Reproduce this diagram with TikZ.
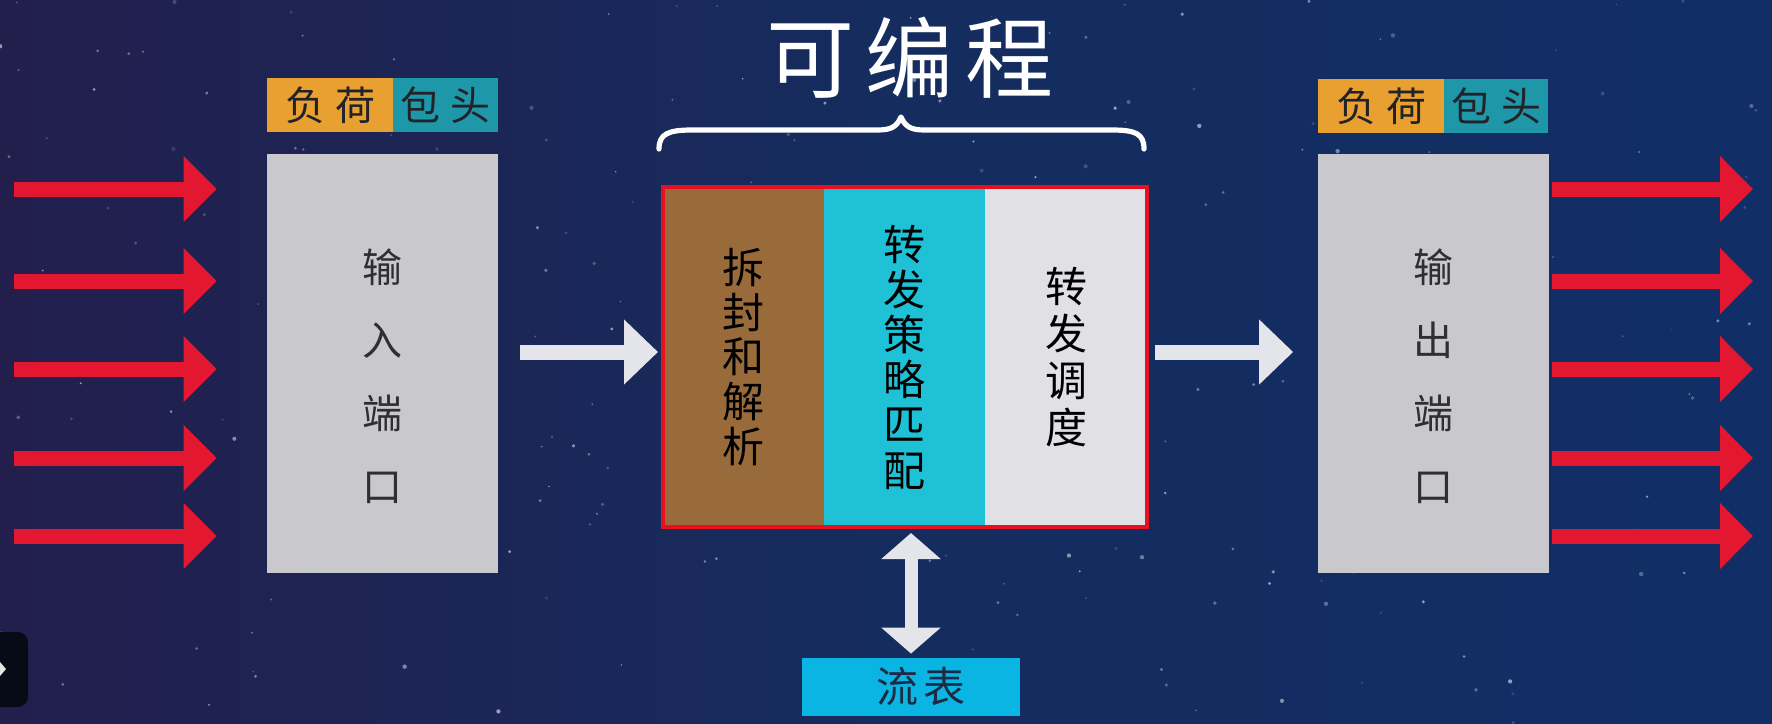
\documentclass[tikz,border=0pt]{standalone}
\usepackage{fontspec}
\setmainfont{Noto Sans CJK SC}
\usetikzlibrary{arrows.meta}

\definecolor{bgL}{HTML}{221F4D}
\definecolor{bgM}{HTML}{152C5E}
\definecolor{bgR}{HTML}{112F66}
\definecolor{redarr}{HTML}{E3172F}
\definecolor{redbox}{HTML}{E81020}
\definecolor{whitearr}{HTML}{E4E5EA}
\definecolor{portgray}{HTML}{C9C9CD}
\definecolor{porttext}{HTML}{2E2E33}
\definecolor{laborange}{HTML}{E8A030}
\definecolor{labteal}{HTML}{1E98A8}
\definecolor{labtext}{HTML}{222228}
\definecolor{colbrown}{HTML}{9A6B3A}
\definecolor{colcyan}{HTML}{1FC1D6}
\definecolor{colgray}{HTML}{E0E0E5}
\definecolor{flowblue}{HTML}{0BB5E3}
\definecolor{flowtext}{HTML}{1B2B45}
\definecolor{uiblack}{HTML}{070B16}

\tikzset{
  portbox/.style={fill=portgray, minimum width=115.5pt, minimum height=209.5pt, inner sep=0pt},
  porttxt/.style={text=porttext, align=center, font=\fontsize{20}{36.5}\selectfont, inner sep=0pt},
  lab/.style={minimum height=27pt, inner sep=0pt, text=labtext, font=\fontsize{20}{20}\selectfont},
  col/.style={minimum width=80.5pt, minimum height=170pt, inner sep=0pt, align=center, text=black},
  rarrow/.style={draw=redarr, line width=7.5pt, -{Triangle[length=16.5pt,width=32pt]}},
  warrow/.style={draw=whitearr, line width=7.5pt, -{Triangle[length=17pt,width=31.5pt]}},
  darrow/.style={draw=whitearr, line width=6.5pt, {Triangle[length=13pt,width=29pt]}-{Triangle[length=13pt,width=29pt]}},
  bracestyle/.style={draw=white, line width=2.6pt, line cap=round, line join=round}
}

\begin{document}
\begin{tikzpicture}[x=0.5pt,y=-0.5pt]
\useasboundingbox (0,0) rectangle (1772,723);
% background
\shade[left color=bgL, right color=bgR, middle color=bgM] (0,0) rectangle (1772,723);
\pgfmathsetseed{11}
\foreach \i in {1,...,230}{
  \pgfmathsetmacro{\sx}{rnd*1772}
  \pgfmathsetmacro{\sy}{rnd*723}
  \pgfmathsetmacro{\so}{0.12+0.45*rnd}
  \pgfmathsetmacro{\sr}{0.8+1.4*rnd}
  \fill[white, opacity=\so] (\sx,\sy) circle[radius=\sr];
}
% player control remnant
\fill[uiblack, rounded corners=5pt] (-20,632) rectangle (28,707);
\fill[white!80!gray] (0,662) -- (6,669) -- (0,676) -- cycle;

% title
\node[text=white, font=\fontsize{44}{44}\selectfont, inner sep=0pt] (title) at (910,58) {可\hspace{6pt}编\hspace{6pt}程};

% input port
\node[portbox] (inbox) at (382.5,363.5) {};
\node[porttxt] (intext) at (382.5,376) {输\\入\\端\\口};
\node[lab, fill=laborange, minimum width=63pt] (inload) at (330,105) {负\hspace{5pt}荷};
\node[lab, fill=labteal, minimum width=52.5pt] (inhead) at (445.5,105) {包\hspace{5pt}头};

% output port
\node[portbox] (outbox) at (1433,363.5) {};
\node[porttxt] (outtext) at (1433,376) {输\\出\\端\\口};
\node[lab, fill=laborange, minimum width=63pt] (outload) at (1381,106) {负\hspace{5pt}荷};
\node[lab, fill=labteal, minimum width=52pt] (outhead) at (1496,106) {包\hspace{5pt}头};

% programmable core
\node[col, fill=colbrown, font=\fontsize{21}{22.3}\selectfont] (col1) at (743.5,357) {拆\\封\\和\\解\\析};
\node[col, fill=colcyan, font=\fontsize{21}{22.6}\selectfont] (col2) at (904.5,357) {转\\发\\策\\略\\匹\\配};
\node[col, fill=colgray, minimum width=81pt, font=\fontsize{21}{23.5}\selectfont] (col3) at (1066,357) {转\\发\\调\\度};
\node[draw=redbox, line width=2pt, minimum width=242pt, minimum height=170pt, inner sep=0pt] (core) at (905,357) {};

% brace over the core
\draw[bracestyle] (659,149) .. controls (659,134) and (668,130) .. (692,130)
  -- (878,130) .. controls (892,130) and (897,126) .. (901,117)
  .. controls (905,126) and (910,130) .. (924,130)
  -- (1112,130) .. controls (1136,130) and (1144,134) .. (1144,149);

% flow table
\node[fill=flowblue, minimum width=109pt, minimum height=29pt, inner sep=0pt, text=flowtext, font=\fontsize{21}{21}\selectfont] (flow) at (911,687) {\hspace{10pt}流\hspace{3pt}表};

% connectors
\draw[warrow] ([xshift=11pt,yshift=5.75pt]inbox.east) -- ([xshift=-1.5pt,yshift=2.5pt]core.west);
\draw[warrow] ([xshift=3pt,yshift=2.5pt]core.east) -- ([xshift=-12pt,yshift=5.75pt]outbox.west);
\draw[darrow] ([yshift=2pt]flow.north) -- ([yshift=-2pt]flow.north |- core.south);

\foreach \y [count=\k] in {189,281,369,458,536}{
  \coordinate (lin\k) at (14,\y);
  \coordinate (rout\k) at (1753,\y);
  \draw[rarrow] (lin\k) -- ([xshift=-25pt]inbox.west |- lin\k);
  \draw[rarrow] ([xshift=1.5pt]outbox.east |- rout\k) -- (rout\k);
}
\end{tikzpicture}
\end{document}
